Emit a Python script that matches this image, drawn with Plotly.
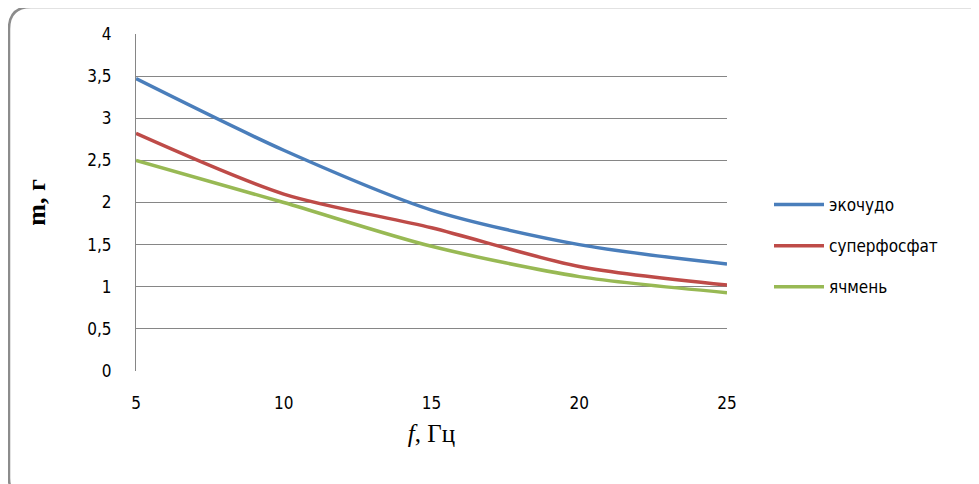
import plotly.graph_objects as go

freq = [5, 10, 15, 20, 25]
ekochudo = [3.47, 2.62, 1.91, 1.50, 1.27]
superphosphate = [2.82, 2.10, 1.70, 1.24, 1.02]
barley = [2.50, 2.00, 1.48, 1.12, 0.93]

names = ["экочудо", "суперфосфат", "ячмень"]
colors = ["#4A7EBB", "#BE4B48", "#98B954"]
series = [ekochudo, superphosphate, barley]

y_ticks = [0, 0.5, 1, 1.5, 2, 2.5, 3, 3.5, 4]
y_tick_labels = ["0", "0,5", "1", "1,5", "2", "2,5", "3", "3,5", "4"]
x_ticks = [5, 10, 15, 20, 25]

W, H = 979, 484
OFF = 8  # page body margin
L, R, T, B = 136 - OFF, 727 - OFF, 34 - OFF, 371 - OFF

fig = go.Figure()
for i, (name, vals, col) in enumerate(zip(names, series, colors)):
    fig.add_trace(go.Scatter(
        x=freq, y=vals, name=name, mode="lines", legendgroup=f"g{i}",
        line=dict(color=col, width=3.5, shape="spline", smoothing=0.8),
    ))

def px(x):
    return (x - OFF - L) / (R - L)

def py(y):
    return (B - (y - OFF)) / (B - T)

# rounded outer border (page pixel coords)
x0, y0, x1, y1, r = 9, 7, 995, 500, 22
path = (
    f"M {px(x0)} {py(y0 + r)} "
    f"Q {px(x0)} {py(y0)} {px(x0 + r)} {py(y0)} "
    f"L {px(x1 - r)} {py(y0)} "
    f"Q {px(x1)} {py(y0)} {px(x1)} {py(y0 + r)} "
    f"L {px(x1)} {py(y1 - r)} "
    f"Q {px(x1)} {py(y1)} {px(x1 - r)} {py(y1)} "
    f"L {px(x0 + r)} {py(y1)} "
    f"Q {px(x0)} {py(y1)} {px(x0)} {py(y1 - r)} Z"
)
fig.add_shape(type="path", path=path, xref="paper", yref="paper",
              line=dict(color="#8C8C8C", width=2.5), layer="below")

font_family = "DejaVu Sans Condensed, Liberation Sans Narrow, Liberation Sans, sans-serif"
tick_font = dict(family=font_family, size=17, color="#000000")

fig.update_layout(
    width=W, height=H,
    margin=dict(l=L, r=W - R, t=T, b=H - B),
    paper_bgcolor="white", plot_bgcolor="white",
    showlegend=True,
    legend=dict(x=px(769), y=py(187), xanchor="left", yanchor="top",
                font=dict(family=font_family, size=17, color="#000"),
                itemwidth=50, tracegroupgap=16, bgcolor="rgba(0,0,0,0)"),
    xaxis=dict(range=[5, 25], tickvals=x_ticks, ticktext=[str(v) for v in x_ticks],
               showgrid=False, zeroline=False, showline=False, ticks="",
               tickfont=tick_font, ticklabelstandoff=20,
               title=dict(text="<i>f</i>, Гц", font=dict(family="Liberation Serif, Times New Roman, serif",
                                                         size=25, color="#000"), standoff=12)),
    yaxis=dict(range=[0, 4], tickvals=y_ticks, ticktext=y_tick_labels,
               showgrid=True, gridcolor="#868686", gridwidth=1.2,
               zeroline=False, showline=True, linecolor="#868686", linewidth=1.2,
               ticks="", tickfont=tick_font, ticklabelstandoff=20,
               title=dict(text="<b>m, г</b>", font=dict(family="Liberation Serif, Times New Roman, serif",
                                                        size=26, color="#000"), standoff=34)),
)

fig.write_html("out.html")
